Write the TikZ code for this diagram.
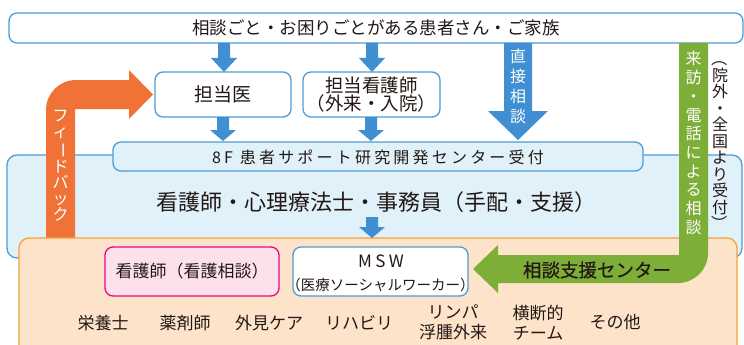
\documentclass[tikz,border=0pt]{standalone}
\usepackage{fontspec}
\usepackage{graphicx}
\setmainfont{Noto Sans CJK JP}
\definecolor{bborder}{HTML}{4F9BD6}
\definecolor{barrow}{HTML}{3F8FD2}
\definecolor{lblue}{HTML}{E0F1FA}
\definecolor{oarrow}{HTML}{F07236}
\definecolor{garrow}{HTML}{7DAE37}
\definecolor{peach}{HTML}{FDE3C9}
\definecolor{oborder}{HTML}{F6A13A}
\definecolor{pinkfill}{HTML}{FCE1EC}
\definecolor{pinkborder}{HTML}{E5097F}
\definecolor{ink}{HTML}{231815}
\newcommand\vbar{\rotatebox[origin=c]{-90}{ー}}
\newcommand\vlp{\rotatebox[origin=c]{-90}{（}}
\newcommand\vrp{\rotatebox[origin=c]{-90}{）}}
\begin{document}
\begin{tikzpicture}[x=1pt,y=-1pt,
  every node/.style={text=ink, inner sep=0pt},
  bluebox/.style={draw=bborder, line width=1.3pt, fill=white, rounded corners=8pt},
  regionbox/.style={draw=bborder, line width=1.3pt, fill=lblue, rounded corners=10pt},
  orangebox/.style={draw=oborder, line width=1.3pt, fill=peach, rounded corners=10pt},
  pinkbox/.style={draw=pinkborder, line width=1.3pt, fill=pinkfill, rounded corners=8pt},
  vtext/.style={align=center, text=white},
  label/.style={font=\fontsize{17}{19}\selectfont, align=center}
]
\useasboundingbox (0,0) rectangle (744,345);

% top banner
\node[bluebox, minimum width=734pt, minimum height=30pt, font=\fontsize{17.5}{20}\selectfont] (banner) at (376,28) {相談ごと・お困りごとがある患者さん・ご家族};

% big light-blue region
\node[regionbox, minimum width=735pt, minimum height=103pt] (region) at (374.5,206.5) {};

% feedback arrow (orange)
\fill[oarrow] (46,238) -- (46,110) .. controls (46,93.4) and (59.4,80) .. (76,80)
  -- (129,80) -- (129,70) -- (153,94.5) -- (129,119) -- (129,109) -- (75,109) -- (75,238) -- cycle;
\node[vtext, font=\fontsize{16}{16.3}\selectfont] (fb) at (60.5,166) {フ\\ィ\\\vbar\\ド\\バ\\ッ\\ク};

% orange region
\node[orangebox, minimum width=718pt, minimum height=127pt] (orange) at (378,301.5) {};

% boxes
\node[bluebox, minimum width=136pt, minimum height=45pt, font=\fontsize{19}{20}\selectfont] (doc) at (223,94.5) {担当医};
\node[bluebox, minimum width=137pt, minimum height=45pt, align=center, font=\fontsize{18.5}{17.5}\selectfont] (nurse) at (371.5,94.5) {担当看護師\\（外来・入院）};

\node[regionbox, rounded corners=8pt, minimum width=530pt, minimum height=29pt] (recept) at (378,156.5) {};
\node[font=\fontsize{16}{18}\selectfont\addfontfeature{LetterSpace=20}] (recepttext) at (378,157) {8F 患者サポート研究開発センター受付};

\node[font=\fontsize{22}{24}\selectfont] (staff) at (376,202) {看護師・心理療法士・事務員（手配・支援）};

\node[pinkbox, minimum width=174pt, minimum height=49pt, font=\fontsize{17}{19}\selectfont] (ns) at (192,271.5) {看護師（看護相談）};
\node[bluebox, minimum width=175pt, minimum height=49pt] (msw) at (380.5,271.5) {};
\node[font=\fontsize{17}{19}\selectfont\addfontfeature{LetterSpace=20}] (mswt) at (381,261) {MSW};
\node[font=\fontsize{14.5}{16}\selectfont] (mswt2) at (380.5,285) {（医療ソーシャルワーカー）};

% small blue arrows
\foreach \cx/\ya/\yb/\yc in {224/43/58/72, 372/43/58/72, 223/117/130/141, 371/117/130/141, 372/217/227/238} {
  \fill[barrow] (\cx-6,\ya) -- (\cx-6,\yb) -- (\cx-13,\yb) -- (\cx,\yc) -- (\cx+13,\yb) -- (\cx+6,\yb) -- (\cx+6,\ya) -- cycle;
}

% direct consultation arrow
\fill[barrow] (504,43) -- (504,111) -- (488,111) -- (518,140) -- (548,111) -- (532,111) -- (532,43) -- cycle;
\node[vtext, font=\fontsize{16}{20}\selectfont] (direct) at (518,86) {直\\接\\相\\談};

% green arrow
\fill[garrow] (679,43) -- (679,255) -- (498,255) -- (498,245) -- (473,269) -- (498,293) -- (498,283)
  -- (678,283) .. controls (694.6,283) and (708,269.6) .. (708,253) -- (708,43) -- cycle;
\node[vtext, font=\fontsize{16}{18.7}\selectfont] (visit) at (693.5,143) {来\\訪\\・\\電\\話\\に\\よ\\る\\相\\談};
\node[font=\fontsize{18.5}{20}\selectfont\addfontfeature{FakeBold=0.4}] (center) at (597,270) {相談支援センター};

\node[align=center, font=\fontsize{16}{16.5}\selectfont] (outside) at (720,141) {\vlp\\院\\外\\・\\全\\国\\よ\\り\\受\\付\\\vrp};

% bottom labels
\node[label] (l1) at (103,323) {栄養士};
\node[label] (l2) at (185,323) {薬剤師};
\node[label] (l3) at (269,323) {外見ケア};
\node[label] (l4) at (359,323) {リハビリ};
\node[label, font=\fontsize{17}{20.5}\selectfont] (l5) at (453,322.5) {リンパ\\浮腫外来};
\node[label, font=\fontsize{17}{20.5}\selectfont] (l6) at (538,322.5) {横断的\\チーム};
\node[label] (l7) at (615,322) {その他};
\end{tikzpicture}
\end{document}
